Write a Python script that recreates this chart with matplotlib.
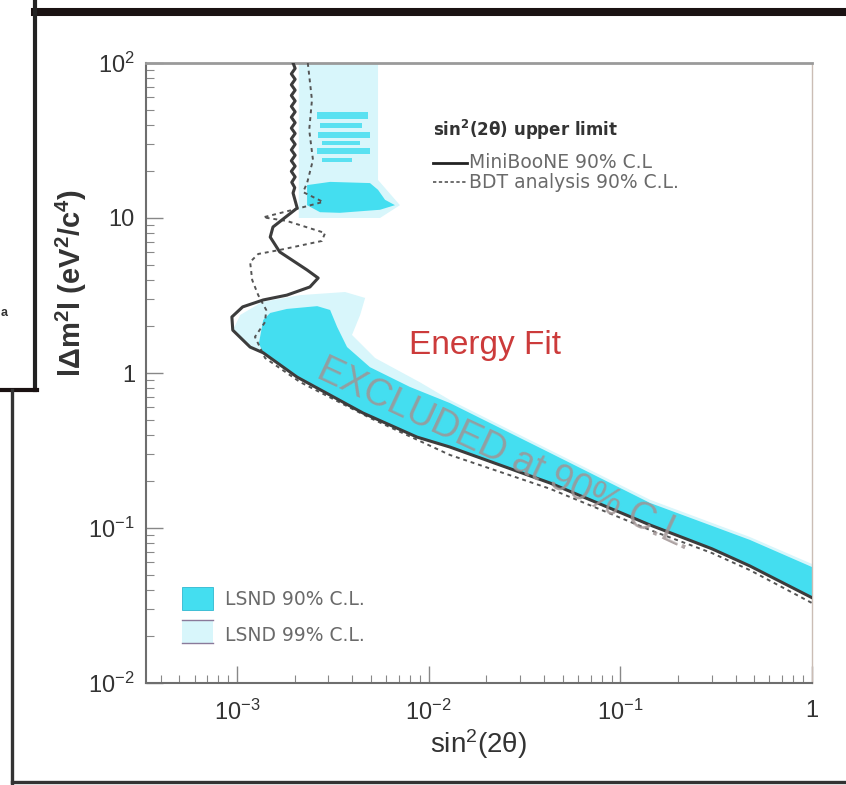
import numpy as np
import matplotlib
matplotlib.use("Agg")
import matplotlib.pyplot as plt
from matplotlib.lines import Line2D
from matplotlib.patches import Rectangle, Polygon

plt.rcParams['font.family'] = ['Liberation Sans', 'DejaVu Sans']

# MiniBooNE 90% C.L. limit (solid)
mb_sin2 = [1.96e-3, 2.01e-3, 1.92e-3, 2.01e-3, 1.92e-3, 2.01e-3, 1.92e-3, 2.01e-3,
           1.92e-3, 2.01e-3, 1.92e-3, 2.01e-3, 1.92e-3, 2.01e-3, 1.92e-3, 2.01e-3,
           1.92e-3, 2.01e-3, 1.92e-3, 2.01e-3, 1.92e-3, 2.01e-3, 1.93e-3, 2.0e-3, 1.96e-3,
           2.06e-3, 1.54e-3, 1.49e-3, 1.67e-3, 2.32e-3, 2.65e-3, 2.40e-3, 1.82e-3,
           1.37e-3, 1.07e-3, 0.94e-3, 0.95e-3, 1.17e-3, 1.37e-3, 2.06e-3, 4.54e-3,
           8.69e-3, 1.29e-2, 4.30e-2, 0.143, 0.30, 0.474, 1.0]
mb_dm2 = [100, 92.3, 85.1, 78.5, 72.4, 66.8, 61.7, 56.9, 52.5, 48.4, 44.7, 41.2,
          38.0, 35.1, 32.4, 29.9, 27.5, 25.4, 23.4, 21.6, 20.0, 18.4, 17.0, 15.7, 14.5,
          11.6, 8.75, 7.53, 6.04, 4.62, 4.10, 3.59, 3.18, 2.96, 2.67, 2.30, 1.89,
          1.47, 1.35, 0.94, 0.552, 0.386, 0.333, 0.195, 0.1045, 0.0735, 0.0569, 0.0355]

# BDT analysis 90% C.L. (dotted)
bdt_sin2 = [2.34e-3, 2.46e-3, 2.38e-3, 2.49e-3, 2.32e-3, 2.21e-3, 2.81e-3, 2.13e-3,
            1.37e-3, 1.82e-3, 2.88e-3, 2.77e-3, 1.67e-3, 1.29e-3, 1.17e-3, 1.20e-3,
            1.29e-3, 1.42e-3, 1.40e-3, 1.24e-3, 1.40e-3, 2.13e-3, 4.94e-3, 1.29e-2,
            4.30e-2, 0.143, 0.30, 0.474, 1.0]
bdt_dm2 = [100, 57.7, 37.0, 23.7, 16.8, 14.7, 12.7, 11.6, 10.1, 9.57, 8.0, 7.11,
           6.22, 5.86, 5.20, 3.98, 3.18, 2.55, 2.13, 1.71, 1.25, 0.875, 0.513, 0.296,
           0.179, 0.097, 0.069, 0.0535, 0.0328]

# LSND 90% C.L. main band
lsnd90_sin2 = [1.30e-3, 1.37e-3, 1.49e-3, 1.82e-3, 2.62e-3, 3.06e-3, 3.33e-3, 3.75e-3,
               4.94e-3, 7.98e-3, 1.29e-2, 4.30e-2, 0.143, 0.474, 1.0, 1.0,
               0.474, 0.30, 0.143, 4.30e-2, 1.29e-2, 8.69e-3, 4.54e-3, 2.06e-3, 1.37e-3]
lsnd90_dm2 = [1.55, 2.20, 2.44, 2.59, 2.70, 2.55, 1.98, 1.47,
              1.09, 0.813, 0.640, 0.305, 0.145, 0.0838, 0.056, 0.0355,
              0.0569, 0.0735, 0.1045, 0.195, 0.333, 0.386, 0.552, 0.94, 1.35]

# LSND 90% C.L. high-mass blob
blob_sin2 = [2.32e-3, 3.06e-3, 4.94e-3, 5.44e-3, 5.92e-3, 6.67e-3, 5.57e-3, 3.44e-3, 2.71e-3, 2.32e-3]
blob_dm2 = [16.3, 17.1, 16.8, 15.2, 13.1, 12.1, 11.3, 10.8, 10.9, 12.1]

# LSND 90% C.L. islands
stripe_dm2_lo = [43.6, 38.1, 32.8, 29.6, 25.9, 23.0]
stripe_dm2_hi = [48.3, 41.0, 35.9, 31.4, 28.3, 24.4]
stripe_sin2_lo = [2.61e-3, 2.71e-3, 2.65e-3, 2.77e-3, 2.61e-3, 2.77e-3]
stripe_sin2_hi = [4.82e-3, 4.49e-3, 4.94e-3, 4.39e-3, 4.94e-3, 3.98e-3]

# LSND 99% C.L.
lsnd99_sin2 = [1.04e-3, 1.35e-3, 2.13e-3, 3.66e-3, 4.66e-3, 4.39e-3, 3.98e-3, 5.25e-3,
               9.02e-3, 1.29e-2, 4.30e-2, 0.143, 0.474, 1.0, 1.0,
               0.474, 0.143, 4.30e-2, 1.29e-2, 2.06e-3, 1.37e-3, 1.17e-3, 0.95e-3]
lsnd99_dm2 = [2.37, 2.87, 3.18, 3.33, 3.05, 2.37, 1.76, 1.25,
              0.87, 0.67, 0.318, 0.152, 0.0875, 0.0586, 0.0355,
              0.0569, 0.1045, 0.195, 0.333, 0.94, 1.35, 1.47, 1.89]
top99_sin2 = [2.10e-3, 5.44e-3, 5.44e-3, 7.08e-3, 5.57e-3, 2.10e-3]
top99_dm2 = [100, 100, 17.6, 12.1, 10.0, 10.0]

x_ticks = [1e-3, 1e-2, 1e-1, 1]
x_labels = [r'$\mathregular{10^{-3}}$', r'$\mathregular{10^{-2}}$', r'$\mathregular{10^{-1}}$', '1']
y_ticks = [1e-2, 1e-1, 1, 10, 100]
y_labels = [r'$\mathregular{10^{-2}}$', r'$\mathregular{10^{-1}}$', '1', '10', r'$\mathregular{10^{2}}$']

c90 = '#44def0'
c99 = '#d8f6fb'

fig = plt.figure(figsize=(8.46, 7.85), dpi=100)
ax = fig.add_axes([146/846, 1-683/785, 666/846, 620/785])
ax.set_xscale('log')
ax.set_yscale('log')
ax.set_xlim(10**-3.475, 1)
ax.set_ylim(1e-2, 1e2)

ax.add_patch(Polygon(list(zip(top99_sin2, top99_dm2)), closed=True, fc=c99, ec='none', zorder=1))
ax.add_patch(Polygon(list(zip(lsnd99_sin2, lsnd99_dm2)), closed=True, fc=c99, ec='none', zorder=1))
ax.add_patch(Polygon(list(zip(lsnd90_sin2, lsnd90_dm2)), closed=True, fc=c90, ec='none', zorder=2))
ax.add_patch(Polygon(list(zip(blob_sin2, blob_dm2)), closed=True, fc=c90, ec='none', zorder=2))
for lo, hi, x0, x1 in zip(stripe_dm2_lo, stripe_dm2_hi, stripe_sin2_lo, stripe_sin2_hi):
    ax.fill_between([x0, x1], [lo, lo], [hi, hi], color=c90, lw=0, alpha=0.85, zorder=2)

ax.plot(bdt_sin2, bdt_dm2, color='#555555', lw=1.4, ls=(0, (2, 2)), zorder=3)
ax.plot(mb_sin2, mb_dm2, color='#3c3c3c', lw=2.2, zorder=4)

ax.text(0.025, 0.296, 'EXCLUDED at 90% C.L.', rotation=-25, rotation_mode='anchor',
        ha='center', va='center', fontsize=27, color='#a09494', alpha=0.85, zorder=5)
ax.text(0.509, 0.545, 'Energy Fit', transform=ax.transAxes, ha='center', va='center',
        fontsize=24, color='#cc3b3b', zorder=5)

# upper right legend
ax.text(0.431, 0.892, r'sin$\mathregular{^2}$(2θ) upper limit', transform=ax.transAxes,
        ha='left', va='center', fontsize=12, fontweight='bold', color='#333333',
        family='DejaVu Sans')
ax.plot([0.431, 0.482], [0.839, 0.839], transform=ax.transAxes, color='#222222', lw=2)
ax.plot([0.431, 0.482], [0.808, 0.808], transform=ax.transAxes, color='#555555', lw=1.2, ls=(0, (2, 1.5)))
ax.text(0.4845, 0.839, 'MiniBooNE 90% C.L', transform=ax.transAxes, ha='left', va='center',
        fontsize=13.5, color='#6a6a6a', family='DejaVu Sans')
ax.text(0.4845, 0.808, 'BDT analysis 90% C.L.', transform=ax.transAxes, ha='left', va='center',
        fontsize=13.5, color='#6a6a6a', family='DejaVu Sans')

# lower left legend
ax.add_patch(Rectangle((0.054, 0.118), 0.047, 0.037, transform=ax.transAxes, fc=c90, ec='#30b8d0', lw=0.6))
ax.add_patch(Rectangle((0.054, 0.0645), 0.047, 0.037, transform=ax.transAxes, fc=c99, ec='none'))
ax.plot([0.054, 0.101], [0.1015, 0.1015], transform=ax.transAxes, color='#8a7a9a', lw=1)
ax.plot([0.054, 0.101], [0.0645, 0.0645], transform=ax.transAxes, color='#8a7a9a', lw=1)
ax.text(0.1186, 0.134, 'LSND 90% C.L.', transform=ax.transAxes, ha='left', va='center',
        fontsize=13.5, color='#6a6a6a', family='DejaVu Sans')
ax.text(0.1186, 0.077, 'LSND 99% C.L.', transform=ax.transAxes, ha='left', va='center',
        fontsize=13.5, color='#6a6a6a', family='DejaVu Sans')

ax.set_xticks(x_ticks)
ax.set_xticklabels(x_labels)
ax.set_yticks(y_ticks)
ax.set_yticklabels(y_labels)
ax.tick_params(which='both', direction='in', top=False, right=False, color='#888888',
               labelsize=17, labelcolor='#333333')
ax.tick_params(which='major', length=12, width=1)
ax.tick_params(which='minor', length=6, width=0.8)
ax.tick_params(axis='x', pad=12)
ax.tick_params(axis='y', pad=8)
for s in ['left', 'bottom']:
    ax.spines[s].set_color('#6e6e6e')
    ax.spines[s].set_linewidth(1.5)
ax.spines['top'].set_color('#9a9a9a')
ax.spines['top'].set_linewidth(2)
ax.spines['right'].set_color('#cbbdb5')
ax.spines['right'].set_linewidth(1)

ax.set_xlabel(r'sin$\mathregular{^2}$(2θ)', fontsize=20, color='#333333', labelpad=2)
ax.set_ylabel(r'l$\mathregular{\Delta}$m$\mathregular{^2}$l (eV$\mathregular{^2}$/c$\mathregular{^4}$)',
              fontsize=21, fontweight='bold', color='#333333')
ax.yaxis.set_label_coords(-0.085, 0.645)

# slide frame pieces
fig.add_artist(Line2D([35/846, 1], [1-12/785, 1-12/785], color='#1a1212', lw=5.8))
fig.add_artist(Line2D([35/846, 35/846], [1, 1-390/785], color='#222222', lw=3))
fig.add_artist(Line2D([0, 37/846], [1-390/785, 1-390/785], color='#1a1212', lw=3))
fig.add_artist(Line2D([12/846, 12/846], [1-390/785, 0], color='#333333', lw=2.4))
fig.add_artist(Line2D([12/846, 1], [3/785, 3/785], color='#333333', lw=2.4))
fig.text(0.5/846, 1-313/785, 'a', ha='left', va='center', fontsize=9, fontweight='bold', color='#333333')

fig.savefig('out.png', dpi=100)
